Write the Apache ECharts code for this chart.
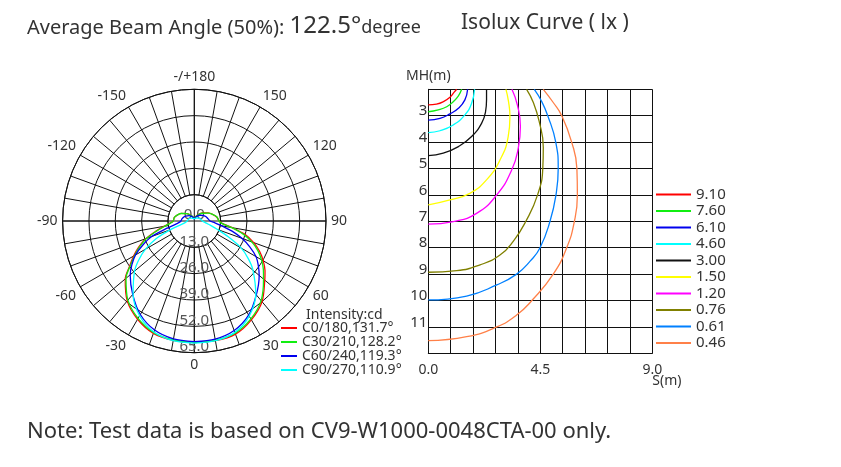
<!doctype html>
<html>
<head>
<meta charset="utf-8">
<title>Photometric Report</title>
<script src="https://cdn.jsdelivr.net/npm/echarts@6/dist/echarts.min.js"></script>
<style>
  html, body { margin: 0; padding: 0; background: #fff; }
  #main { width: 841px; height: 467px; }
</style>
</head>
<body>
<div id="main"></div>
<script>
  // gamma angles (deg) used for the intensity curves
  var gammaAngles = [0, 10, 20, 30, 40, 50, 55, 60, 65, 70, 75, 80, 85, 90, 100, 110, 120, 135, 150, 165, 180];

  // intensity (cd) per C-plane, right half (gamma 0..180) and left half (gamma 0..-180)
  var c0Right  = [60.0, 60.0, 59.4, 56.3, 52.0, 45.4, 42.6, 39.3, 35.6, 31.2, 26.0, 19.0, 13.8, 12.3, 11.2, 9.6, 8.0, 5.6, 3.5, 2.0, 1.2];
  var c0Left   = [60.0, 59.8, 59.0, 56.0, 51.5, 44.5, 39.0, 34.6, 30.2, 25.5, 19.8, 15.2, 12.0, 10.4, 10.0, 8.8, 7.5, 5.2, 3.3, 1.9, 1.2];
  var c30Right = [60.0, 59.8, 58.9, 55.8, 51.3, 44.6, 41.6, 38.3, 34.6, 30.2, 25.0, 18.8, 13.6, 12.2, 11.4, 9.6, 7.8, 5.4, 3.4, 1.9, 1.2];
  var c30Left  = [60.0, 59.6, 58.6, 55.5, 51.0, 44.0, 38.6, 34.0, 29.6, 25.0, 19.4, 14.8, 11.8, 10.4, 10.0, 8.8, 7.4, 5.2, 3.3, 1.9, 1.2];
  var c60Right = [59.6, 59.2, 57.5, 53.6, 47.6, 41.8, 38.6, 35.2, 30.2, 25.0, 19.3, 13.8, 10.2, 7.8, 6.8, 6.2, 5.4, 4.0, 2.8, 1.7, 1.0];
  var c60Left  = [59.6, 59.1, 57.3, 53.3, 47.3, 41.3, 37.6, 33.5, 28.0, 22.4, 14.2, 9.5, 7.5, 6.6, 6.2, 5.6, 4.9, 3.7, 2.6, 1.6, 1.0];
  var c90Right = [60.3, 60.0, 58.5, 54.2, 47.2, 37.8, 32.6, 26.8, 18.5, 12.0, 8.3, 6.0, 4.8, 4.0, 3.5, 3.1, 2.7, 2.1, 1.6, 1.2, 1.0];
  var c90Left  = [60.3, 60.0, 58.3, 54.0, 47.0, 38.5, 33.5, 27.8, 21.0, 12.5, 6.5, 4.6, 3.9, 3.5, 3.2, 2.9, 2.6, 2.0, 1.5, 1.2, 1.0];

  var planeNames = ['C0/180,131.7°', 'C30/210,128.2°', 'C60/240,119.3°', 'C90/270,110.9°'];
  var planeColors = ['#ff0000', '#11ee11', '#0000ee', '#00ffff'];

  // isolux curves: [S (m), MH (m)]
  var luxLevels = ['9.10', '7.60', '6.10', '4.60', '3.00', '1.50', '1.20', '0.76', '0.61', '0.46'];
  var lux910 = [[0, 2.59], [0.33, 2.56], [0.60, 2.47], [0.87, 2.30], [1.04, 2.11], [1.14, 2.0]];
  var lux760 = [[0, 2.85], [0.40, 2.78], [0.74, 2.66], [1.0, 2.47], [1.21, 2.25], [1.34, 2.0]];
  var lux610 = [[0, 3.17], [0.47, 3.10], [0.87, 2.93], [1.21, 2.72], [1.47, 2.40], [1.58, 2.0]];
  var lux460 = [[0, 3.64], [0.47, 3.57], [1.0, 3.35], [1.47, 2.97], [1.74, 2.53], [1.86, 2.0]];
  var lux300 = [[0, 4.51], [0.60, 4.42], [1.21, 4.17], [1.74, 3.79], [2.14, 3.29], [2.30, 2.85], [2.34, 2.4], [2.34, 2.0]];
  var lux150 = [[0, 6.38], [0.87, 6.19], [1.67, 5.94], [2.34, 5.43], [2.88, 4.68], [3.21, 3.79], [3.28, 3.04], [3.22, 2.45], [3.12, 2.0]];
  var lux120 = [[0, 7.11], [1.0, 7.01], [1.94, 6.70], [2.75, 6.0], [3.35, 5.06], [3.62, 4.2], [3.70, 3.41], [3.58, 2.6], [3.36, 2.0]];
  var lux076 = [[0, 8.93], [1.14, 8.87], [2.08, 8.65], [2.88, 8.28], [3.42, 7.75], [3.92, 7.0], [4.39, 6.0], [4.60, 5.0], [4.62, 4.2], [4.45, 3.2], [4.22, 2.5], [3.95, 2.0]];
  var lux061 = [[0, 9.98], [1.54, 9.83], [2.75, 9.41], [3.55, 9.0], [4.10, 8.5], [4.49, 8.0], [4.89, 7.0], [5.13, 6.0], [5.22, 5.0], [5.12, 4.0], [4.80, 3.0], [4.55, 2.45], [4.26, 2.0]];
  var lux046 = [[0, 11.52], [1.54, 11.37], [2.75, 11.0], [3.55, 10.55], [4.16, 10.0], [5.02, 9.0], [5.56, 8.0], [5.87, 7.0], [5.99, 6.0], [5.97, 5.0], [5.76, 4.0], [5.36, 3.0], [5.02, 2.5], [4.62, 2.0]];
  var luxCurves = [lux910, lux760, lux610, lux460, lux300, lux150, lux120, lux076, lux061, lux046];
  var luxColors = ['#ff0000', '#11ee11', '#0000ee', '#00ffff', '#111111', '#ffff00', '#ff00ff', '#808000', '#0080ff', '#ff8048'];

  var font = 'Noto Sans';
  var textColor = '#333';

  // right half goes 0 -> 180, left half comes back 180 -> 360
  function planeData(right, left) {
    var pts = [];
    for (var i = 0; i < gammaAngles.length; i++) {
      pts.push([right[i], gammaAngles[i]]);
    }
    for (var j = gammaAngles.length - 1; j >= 0; j--) {
      pts.push([left[j], 360 - gammaAngles[j]]);
    }
    return pts;
  }

  var planes = [[c0Right, c0Left], [c30Right, c30Left], [c60Right, c60Left], [c90Right, c90Left]];

  var series = [];
  planes.forEach(function (p, i) {
    series.push({
      name: planeNames[i],
      type: 'line',
      coordinateSystem: 'polar',
      polarIndex: 1,
      data: planeData(p[0], p[1]),
      smooth: 0.3,
      symbol: 'none',
      lineStyle: { color: planeColors[i], width: 1.3 },
      itemStyle: { color: planeColors[i] },
      z: 5
    });
  });
  luxCurves.forEach(function (c, i) {
    series.push({
      name: luxLevels[i],
      type: 'line',
      xAxisIndex: 0,
      yAxisIndex: 0,
      data: c,
      smooth: 0.5,
      symbol: 'none',
      lineStyle: { color: luxColors[i], width: 1.3 },
      itemStyle: { color: luxColors[i] },
      z: 5
    });
  });

  var center = [194.3, 221];
  var outerR = 131.7;
  var black = { color: '#111', width: 1 };

  var myChart = echarts.init(document.getElementById('main'));
  var option = {
    animation: false,
    textStyle: { fontFamily: font },
    title: [
      {
        text: '{a|Average Beam Angle (50%): }{b|122.5°}{c|degree}',
        left: 22, top: 9,
        textStyle: {
          rich: {
            a: { fontSize: 20, fontWeight: 'normal', color: textColor, fontFamily: font, verticalAlign: 'bottom' },
            b: { fontSize: 24, fontWeight: 'normal', color: textColor, fontFamily: font, verticalAlign: 'bottom' },
            c: { fontSize: 18, fontWeight: 'normal', color: textColor, fontFamily: font, verticalAlign: 'bottom', padding: [0, 0, 1, 0] }
          }
        }
      },
      {
        text: 'Isolux Curve ( lx )',
        left: 456, top: 8,
        textStyle: { fontSize: 21, fontWeight: 'normal', color: textColor, fontFamily: font }
      },
      {
        text: 'Note: Test data is based on CV9-W1000-0048CTA-00 only.',
        left: 22, top: 416,
        textStyle: { fontSize: 22, fontWeight: 'normal', color: textColor, fontFamily: font }
      },
      {
        text: 'Intensity:cd',
        left: 301, top: 303,
        textStyle: { fontSize: 14, fontWeight: 'normal', color: textColor, fontFamily: font }
      }
    ],
    legend: [
      {
        data: planeNames,
        orient: 'vertical',
        left: 276, top: 316,
        icon: 'rect',
        itemWidth: 16, itemHeight: 2, itemGap: 0,
        selectedMode: false,
        textStyle: { fontSize: 14, lineHeight: 12, color: textColor, fontFamily: font }
      },
      {
        data: luxLevels,
        orient: 'vertical',
        left: 651, top: 182,
        icon: 'rect',
        itemWidth: 35, itemHeight: 2, itemGap: 1.5,
        selectedMode: false,
        textStyle: { fontSize: 15, lineHeight: 12, color: textColor, fontFamily: font }
      }
    ],
    polar: [
      { center: center, radius: [outerR / 5, outerR] },
      { center: center, radius: [0, outerR] }
    ],
    angleAxis: [
      {
        polarIndex: 0,
        type: 'value', min: 0, max: 360, interval: 10,
        startAngle: -90, clockwise: false,
        axisLine: { show: true, lineStyle: black },
        axisTick: { show: false },
        splitLine: { show: true, lineStyle: black },
        axisLabel: {
          margin: 5, fontSize: 14, color: textColor, fontFamily: font,
          formatter: function (v) {
            if (v % 30 !== 0 || v === 360) return '';
            if (v === 180) return '-/+180';
            return v > 180 ? String(v - 360) : String(v);
          }
        }
      },
      {
        polarIndex: 1,
        type: 'value', min: 0, max: 360, interval: 90,
        startAngle: -90, clockwise: false,
        axisLine: { show: false },
        axisTick: { show: false },
        axisLabel: { show: false },
        splitLine: { show: true, lineStyle: black }
      }
    ],
    radiusAxis: [
      {
        polarIndex: 0,
        type: 'value', min: 13, max: 65, interval: 13,
        axisLine: { show: false },
        axisTick: { show: false },
        axisLabel: { show: false },
        splitLine: { show: true, lineStyle: black }
      },
      {
        polarIndex: 1,
        type: 'value', min: 0, max: 65, interval: 13,
        axisLine: { show: false },
        axisTick: { show: false },
        splitLine: { show: false },
        axisLabel: {
          margin: 0, align: 'center', verticalAlign: 'bottom', lineHeight: 12,
          fontSize: 15, color: '#555', fontFamily: font,
          formatter: function (v) { return v.toFixed(1); }
        },
        z: 3
      }
    ],
    grid: { left: 428.3, top: 89.3, width: 224, height: 264 },
    xAxis: {
      type: 'value', min: 0, max: 9, interval: 0.9,
      name: 'S(m)', nameLocation: 'end', nameGap: 0, nameMoveOverlap: false,
      nameTextStyle: { align: 'left', verticalAlign: 'top', padding: [21, 0, 0, 0], fontSize: 14, color: textColor, fontFamily: font },
      axisLine: { lineStyle: black },
      axisTick: { show: false },
      splitLine: { show: true, lineStyle: black },
      axisLabel: {
        margin: 10, fontSize: 14, color: textColor, fontFamily: font,
        formatter: function (v) {
          if (Math.abs(v) < 1e-6 || Math.abs(v - 4.5) < 1e-6 || Math.abs(v - 9) < 1e-6) return v.toFixed(1);
          return '';
        }
      }
    },
    yAxis: {
      type: 'value', min: 2, max: 12, interval: 1, inverse: true,
      name: 'MH(m)', nameLocation: 'start', nameGap: 6, nameMoveOverlap: false,
      nameTextStyle: { fontSize: 14, color: textColor, fontFamily: font },
      axisLine: { lineStyle: black },
      axisTick: { show: false },
      splitLine: { show: true, lineStyle: black },
      axisLabel: {
        margin: 1, fontSize: 15, color: textColor, fontFamily: font,
        verticalAlign: 'bottom', lineHeight: 9,
        formatter: function (v) { return (v === 2 || v === 12) ? '' : String(v); }
      }
    },
    series: series
  };

  myChart.setOption(option);
</script>
</body>
</html>
